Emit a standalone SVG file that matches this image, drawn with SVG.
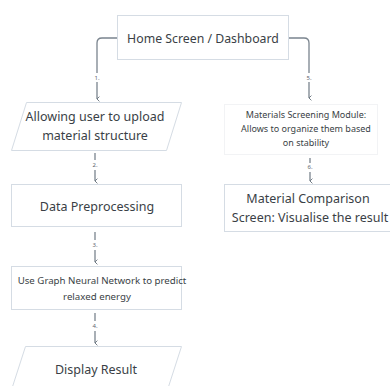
<svg xmlns="http://www.w3.org/2000/svg" width="390" height="386" viewBox="0 0 390 386">
<defs>
<marker id="arr" viewBox="0 0 10 10" refX="5" refY="9" markerWidth="6" markerHeight="6" orient="auto-start-reverse" markerUnits="userSpaceOnUse">
<path d="M1,5 L5,9 L9,5" fill="none" stroke="#6e7882" stroke-width="1.6"/>
</marker>
<style>
.box{fill:#fff;stroke:#d5dce4;stroke-width:1}
.t{font-family:"Noto Sans","Liberation Sans",sans-serif;fill:#3a3f46;text-anchor:middle}
.c{fill:none;stroke:#7a848e;stroke-width:1.3}
.l{font-family:"Noto Sans","Liberation Sans",sans-serif;fill:#5c656e;font-size:6px;text-anchor:middle}
</style>
</defs>
<rect width="390" height="386" fill="#fff"/>
<g id="connectors">
<path class="c" d="M117,38 H102 Q97,38 97,43 V73"/>
<path class="c" d="M97,82 V99" marker-end="url(#arr)"/>
<text class="l" x="97" y="80">1.</text>
<path class="c" d="M289,38 H304 Q309,38 309,43 V73"/>
<path class="c" d="M309,82 V98" marker-end="url(#arr)"/>
<text class="l" x="309" y="80">5.</text>
<path class="c" d="M95,153 V160"/>
<text class="l" x="95" y="167">2.</text>
<path class="c" d="M95,170 V181" marker-end="url(#arr)"/>
<path class="c" d="M95,232 V240"/>
<text class="l" x="95" y="247">3.</text>
<path class="c" d="M95,250 V262" marker-end="url(#arr)"/>
<path class="c" d="M95,313 V321"/>
<text class="l" x="95" y="328">4.</text>
<path class="c" d="M95,331 V343" marker-end="url(#arr)"/>
<path class="c" d="M310,158 V163"/>
<text class="l" x="310" y="169">6.</text>
<path class="c" d="M310,172 V181" marker-end="url(#arr)"/>
</g>
<g id="home">
<rect class="box" x="117.5" y="15.5" width="171" height="44"/>
<text class="t" x="203" y="42.5" font-size="12.3">Home Screen / Dashboard</text>
</g>
<g id="upload">
<polygon class="box" points="26.5,102.5 181.5,102.5 166.5,150.5 11.5,150.5"/>
<text class="t" x="95" y="121" font-size="12.5">Allowing user to upload</text>
<text class="t" x="95" y="140" font-size="12.5">material structure</text>
</g>
<g id="preprocess">
<rect class="box" x="11.5" y="184.5" width="170" height="42"/>
<text class="t" x="97" y="211" font-size="12.5">Data Preprocessing</text>
</g>
<g id="gnn">
<rect class="box" x="11.5" y="266.5" width="170" height="43"/>
<text class="t" x="102" y="284" font-size="9.7">Use Graph Neural Network to predict</text>
<text class="t" x="97" y="300" font-size="9.7">relaxed energy</text>
</g>
<g id="display">
<polygon class="box" points="25.5,346.5 181.5,346.5 165.5,396 9.5,396"/>
<text class="t" x="96" y="374" font-size="12.5">Display Result</text>
</g>
<g id="screening">
<rect x="224.5" y="104.5" width="153" height="50" fill="#fff" stroke="#f2f3f5" stroke-width="1"/>
<text class="t" x="306" y="118" font-size="9">Materials Screening Module:</text>
<text class="t" x="306" y="132" font-size="9">Allows to organize them based</text>
<text class="t" x="306" y="146" font-size="9">on stability</text>
</g>
<g id="comparison">
<rect class="box" x="224.5" y="184.5" width="180" height="47"/>
<text class="t" x="308" y="203" font-size="12.5">Material Comparison</text>
<text class="t" x="310" y="222" font-size="12.5">Screen: Visualise the result</text>
</g>
</svg>
